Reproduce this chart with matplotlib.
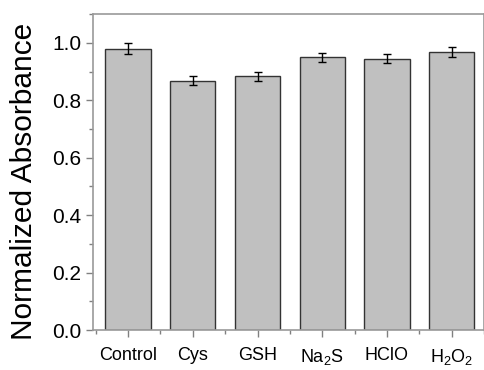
import numpy as np
import matplotlib.pyplot as plt
from matplotlib.ticker import MultipleLocator, FormatStrFormatter

plt.rcParams['font.family'] = ['Liberation Sans', 'DejaVu Sans']
plt.rcParams['mathtext.fontset'] = 'custom'
plt.rcParams['mathtext.rm'] = 'Liberation Sans'

labels = ['Control', 'Cys', 'GSH', r'Na$_2$S', 'HClO', r'H$_2$O$_2$']
values = [0.980, 0.868, 0.883, 0.950, 0.945, 0.969]
errors = [0.019, 0.016, 0.017, 0.016, 0.016, 0.017]

fig = plt.figure(figsize=(4.85, 3.7), dpi=100)
ax = fig.add_axes([0.192, 0.108, 0.806, 0.854])

x = np.arange(1, len(values) + 1)
ax.bar(x, values, width=0.7, color='#c0c0c0', edgecolor='#333333', linewidth=1.0,
       yerr=errors, error_kw=dict(ecolor='black', elinewidth=1, capsize=3, capthick=1))

ax.set_xlim(0.46, 6.5)
ax.set_ylim(0, 1.1)
ax.set_xticks(x)
ax.set_xticklabels(labels, fontsize=13)
ax.set_xticks(np.arange(0.5, 6.6, 1), minor=True)
ax.yaxis.set_major_locator(MultipleLocator(0.2))
ax.yaxis.set_minor_locator(MultipleLocator(0.1))
ax.yaxis.set_major_formatter(FormatStrFormatter('%.1f'))
ax.tick_params(axis='y', labelsize=15)
ax.tick_params(axis='x', pad=7)
ax.tick_params(which='major', direction='out', length=5, color='#808080', width=1)
ax.tick_params(which='minor', direction='out', length=3, color='#808080', width=1)
ax.set_ylabel('Normalized Absorbance', fontsize=21.5)
ax.yaxis.set_label_coords(-0.14, 0.47)

for s in ax.spines.values():
    s.set_color('#9a9a9a')
    s.set_linewidth(1.2)

fig.savefig('out.png', dpi=100)
